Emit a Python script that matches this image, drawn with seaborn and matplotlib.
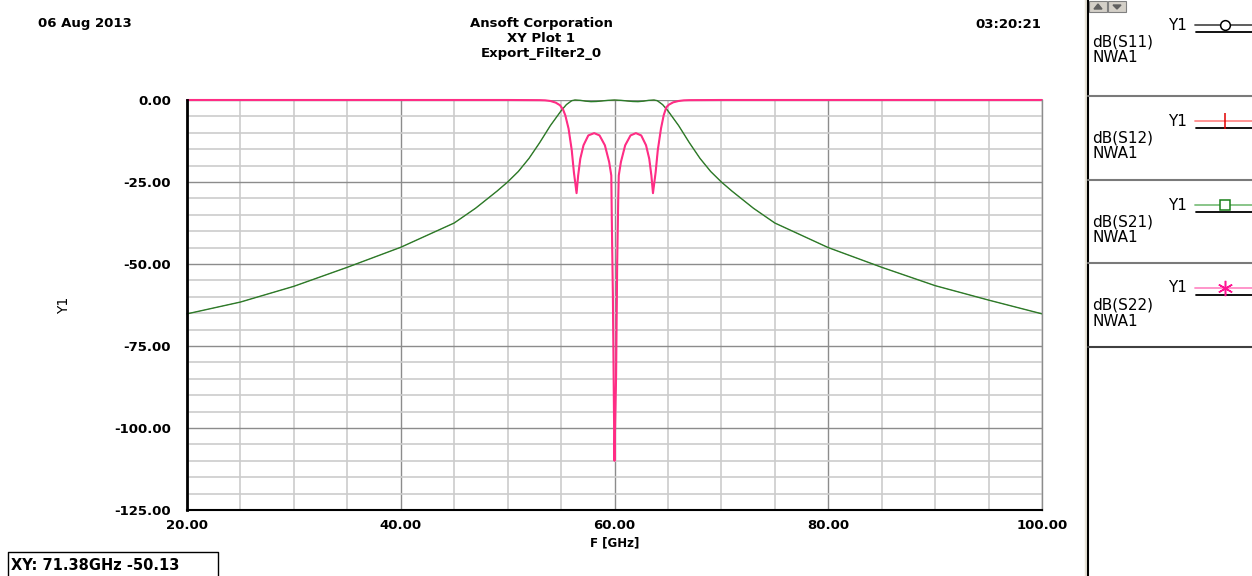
import matplotlib
matplotlib.use('Agg')
import matplotlib.pyplot as plt
from matplotlib.ticker import MultipleLocator, FormatStrFormatter
from matplotlib.patches import Rectangle, Polygon
import seaborn as sns

# dB(S21) (S12 is identical for this symmetric filter)
freq_s21 = [20, 25, 30, 35, 40, 45, 47, 49, 50, 51, 52, 53, 54, 55, 55.5, 56, 56.3,
            56.8, 57.3, 57.8, 58.3, 58.8, 59.4, 60.0, 60.6, 61.2, 61.7, 62.2, 62.7, 63.2,
            63.7, 64, 64.5, 65, 66, 67, 68, 69, 70, 71, 73, 75, 80, 85, 90, 95, 100]
db_s21 = [-65.2, -61.6, -56.8, -51.0, -44.9, -37.5, -33.0, -27.8, -25.0, -21.8, -17.8, -13.0, -7.8, -3.3, -1.4, -0.2, 0.0,
          -0.1, -0.35, -0.5, -0.45, -0.3, -0.1, 0.0, -0.1, -0.3, -0.45, -0.5, -0.35, -0.1,
          0.0, -0.2, -1.4, -3.3, -7.8, -13.0, -17.8, -21.8, -25.0, -27.8, -33.0, -37.5, -45.0, -51.0, -56.6, -61.0, -65.2]

# dB(S22) (S11 is identical)
freq_s22 = [20, 50, 53, 53.5, 54.0, 54.5, 54.9, 55.2, 55.4, 55.7, 56.0, 56.2, 56.45, 56.6,
            56.8, 57.1, 57.55, 58.1, 58.6, 59.1, 59.5, 59.7, 59.75, 59.85, 59.95, 60.0,
            60.05, 60.15, 60.25, 60.35, 60.4, 60.6, 61.0, 61.5, 62.0, 62.5, 62.95, 63.25,
            63.45, 63.6, 63.85, 64.05, 64.35, 64.6, 64.85, 65.1, 65.5, 66.0, 66.5, 67, 70, 100]
db_s22 = [0.0, 0.0, -0.05, -0.1, -0.3, -0.8, -1.6, -3.0, -4.7, -8.7, -15.3, -22.0, -28.4, -23.0,
          -17.9, -13.8, -10.8, -10.1, -10.8, -13.8, -18.9, -23.0, -37.0, -60.0, -95.0, -110.0,
          -100.0, -84.0, -50.0, -30.0, -23.0, -18.9, -13.8, -10.8, -10.1, -10.8, -13.8, -17.9,
          -23.0, -28.4, -22.0, -15.3, -8.7, -4.7, -2.2, -1.4, -0.7, -0.3, -0.1, -0.05, 0.0, 0.0]

trace_names = ['dB(S11)', 'dB(S12)', 'dB(S21)', 'dB(S22)']
trace_colors = ['#000000', '#e02020', '#2a7d2a', '#ff2d85']
legend_line_colors = ['#505050', '#ff8a8a', '#80c080', '#ff8cc6']
legend_markers = ['o', '|', 's', (6, 2, 0)]
legend_marker_colors = ['#000000', '#e00000', '#1a801a', '#ff1493']

sns.set_style('white')
plt.rcParams['font.family'] = ['DejaVu Sans']
plt.rcParams['text.color'] = 'black'
plt.rcParams['axes.labelcolor'] = 'black'
plt.rcParams['xtick.color'] = 'black'
plt.rcParams['ytick.color'] = 'black'

W, H = 1252, 576
fig = plt.figure(figsize=(W / 100, H / 100), dpi=100)
ax = fig.add_axes([187 / W, 1 - 510 / H, 855 / W, 410 / H])

# S11 and S12 sit underneath S22 and S21
sns.lineplot(x=freq_s22, y=db_s22, ax=ax, color=trace_colors[0], lw=0.4, clip_on=False)
sns.lineplot(x=freq_s21, y=db_s21, ax=ax, color=trace_colors[1], lw=0.3, clip_on=False)
sns.lineplot(x=freq_s21, y=db_s21, ax=ax, color=trace_colors[2], lw=1.0, clip_on=False)
sns.lineplot(x=freq_s22, y=db_s22, ax=ax, color=trace_colors[3], lw=1.5, clip_on=False)

ax.set_xlim(20, 100)
ax.set_ylim(-125, 0)
ax.xaxis.set_major_locator(MultipleLocator(20))
ax.xaxis.set_minor_locator(MultipleLocator(5))
ax.yaxis.set_major_locator(MultipleLocator(25))
ax.yaxis.set_minor_locator(MultipleLocator(5))
ax.xaxis.set_major_formatter(FormatStrFormatter('%.2f'))
ax.yaxis.set_major_formatter(FormatStrFormatter('%.2f'))
ax.set_axisbelow(True)
ax.grid(which='major', color='#8c8c8c', lw=1.0)
ax.grid(which='minor', color='#cccccc', lw=1.2)

for lab in ax.get_xticklabels() + ax.get_yticklabels():
    lab.set_fontweight('bold')
    lab.set_fontsize(9.5)
ax.tick_params(axis='y', which='major', direction='out', length=9.5, width=1, pad=2)
ax.tick_params(axis='y', which='minor', direction='out', length=4, width=1)
ax.tick_params(axis='x', which='major', direction='out', length=3, width=1, pad=3.5)
ax.tick_params(axis='x', which='minor', direction='in', length=3, width=1)

ax.spines['left'].set_color('black')
ax.spines['left'].set_linewidth(2)
ax.spines['bottom'].set_color('black')
ax.spines['bottom'].set_linewidth(1.5)
ax.spines['right'].set_color('#8c8c8c')
ax.spines['right'].set_linewidth(1)
ax.spines['top'].set_visible(False)

ax.set_xlabel('F [GHz]', fontsize=8.5, fontweight='bold', labelpad=3)
ax.set_ylabel('Y1', fontsize=10, labelpad=31)

# overlay in pixel coordinates for header, legend panel and readout box
ov = fig.add_axes([0, 0, 1, 1])
ov.set_xlim(0, W)
ov.set_ylim(H, 0)
ov.axis('off')

hdr = dict(fontsize=9.5, fontweight='bold', va='center')
ov.text(38, 24, '06 Aug 2013', ha='left', **hdr)
ov.text(541, 24, 'Ansoft Corporation', ha='center', **hdr)
ov.text(541, 38, 'XY Plot 1', ha='center', **hdr)
ov.text(541, 53, 'Export_Filter2_0', ha='center', **hdr)
ov.text(1041, 24, '03:20:21', ha='right', **hdr)

# legend panel
ov.plot([1085.5, 1085.5], [0, H], color='#e6e2d6', lw=2.5)
ov.plot([1088, 1088], [0, H], color='black', lw=1.5)
for bx in (1089, 1108):
    ov.add_patch(Rectangle((bx, 1), 18, 11, facecolor='#d4d0c8', edgecolor='#808080', lw=0.8))
ov.add_patch(Polygon([(1094, 9), (1098, 4), (1102, 9)], color='#606060'))
ov.add_patch(Polygon([(1113, 5), (1117, 9), (1121, 5)], color='#606060'))

box_edges = [0, 96, 180, 263, 347]
for i in range(4):
    top = box_edges[i]
    ov.text(1187, top + 25, 'Y1', ha='right', va='center', fontsize=11)
    ov.plot([1195, W], [top + 25, top + 25], color=legend_line_colors[i], lw=1.3)
    ov.plot([1196, W], [top + 32, top + 32], color='black', lw=1.3)
    mk = legend_markers[i]
    if mk in ('o', 's'):
        ov.plot([1225], [top + 25], marker=mk, ms=7, mfc='white',
                mec=legend_marker_colors[i], mew=1.1)
    else:
        ov.plot([1225], [top + 25], marker=mk, ms=11,
                color=legend_marker_colors[i], mew=1.1)
    ov.text(1092, top + 42, trace_names[i], ha='left', va='center', fontsize=11)
    ov.text(1092, top + 58, 'NWA1', ha='left', va='center', fontsize=11)
    bottom = box_edges[i + 1]
    ov.plot([1088, W], [bottom, bottom], color='#7a7a7a' if i < 3 else '#404040', lw=1.5)

# readout box
ov.plot([7.5, 7.5, 218, 218], [H, 552, 552, H], color='black', lw=1)
ov.text(11, 565, 'XY: 71.38GHz -50.13', ha='left', va='center', fontsize=10.5, fontweight='bold')

fig.savefig('out.png', dpi=100)
